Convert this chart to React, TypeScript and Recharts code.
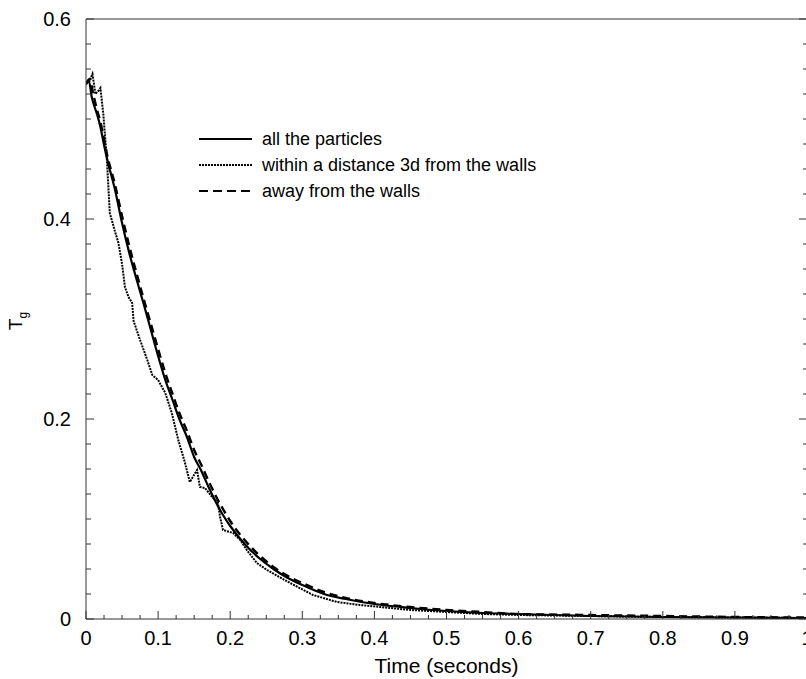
import { LineChart, Line, XAxis, YAxis, Legend } from 'recharts'

// ─── Data ─────────────────────────────────────────────────────────────────────

const SOLID_T = [0, 0.004, 0.008, 0.012, 0.016, 0.02, 0.025, 0.03, 0.04, 0.05, 0.06, 0.07, 0.08, 0.09, 0.1, 0.11, 0.12, 0.13, 0.14, 0.15, 0.16, 0.17, 0.18, 0.19, 0.2, 0.22, 0.24, 0.26, 0.28, 0.3, 0.33, 0.36, 0.4, 0.45, 0.5, 0.55, 0.6, 0.7, 0.8, 0.9, 1.0]
const SOLID_V = [0.535, 0.538, 0.522, 0.512, 0.503, 0.492, 0.474, 0.458, 0.43, 0.396, 0.366, 0.34, 0.315, 0.289, 0.263, 0.239, 0.219, 0.199, 0.182, 0.162, 0.148, 0.132, 0.117, 0.104, 0.093, 0.075, 0.061, 0.05, 0.041, 0.034, 0.025, 0.02, 0.015, 0.011, 0.008, 0.006, 0.005, 0.003, 0.002, 0.0015, 0.001]

const WALL_T = [0, 0.005, 0.009, 0.013, 0.017, 0.02, 0.024, 0.029, 0.033, 0.04, 0.045, 0.05, 0.054, 0.059, 0.064, 0.066, 0.075, 0.085, 0.092, 0.1, 0.11, 0.119, 0.128, 0.137, 0.144, 0.154, 0.158, 0.165, 0.175, 0.183, 0.186, 0.19, 0.204, 0.214, 0.223, 0.237, 0.251, 0.283, 0.315, 0.348, 0.38, 0.408, 0.45, 0.5, 0.55, 0.6, 0.7, 0.8, 0.9, 1.0]
const WALL_V = [0.535, 0.538, 0.545, 0.525, 0.528, 0.531, 0.505, 0.459, 0.406, 0.388, 0.376, 0.355, 0.332, 0.322, 0.316, 0.298, 0.279, 0.259, 0.244, 0.239, 0.226, 0.206, 0.179, 0.157, 0.137, 0.149, 0.132, 0.131, 0.122, 0.116, 0.102, 0.089, 0.086, 0.079, 0.069, 0.056, 0.049, 0.036, 0.024, 0.017, 0.014, 0.012, 0.009, 0.007, 0.005, 0.004, 0.003, 0.002, 0.0015, 0.001]

const AWAY_T = [0, 0.005, 0.01, 0.015, 0.02, 0.03, 0.04, 0.05, 0.06, 0.07, 0.08, 0.09, 0.1, 0.11, 0.12, 0.13, 0.14, 0.15, 0.16, 0.17, 0.18, 0.19, 0.2, 0.22, 0.24, 0.26, 0.28, 0.3, 0.33, 0.36, 0.4, 0.45, 0.5, 0.55, 0.6, 0.7, 0.8, 0.9, 1.0]
const AWAY_V = [0.535, 0.54, 0.525, 0.51, 0.497, 0.462, 0.435, 0.403, 0.373, 0.346, 0.32, 0.295, 0.27, 0.246, 0.225, 0.205, 0.188, 0.169, 0.154, 0.138, 0.123, 0.11, 0.098, 0.079, 0.064, 0.052, 0.043, 0.036, 0.027, 0.021, 0.016, 0.012, 0.009, 0.007, 0.005, 0.004, 0.003, 0.002, 0.0015]

const X_MAJOR = [0, 0.1, 0.2, 0.3, 0.4, 0.5, 0.6, 0.7, 0.8, 0.9, 1]
const X_LABELS = ['0', '0.1', '0.2', '0.3', '0.4', '0.5', '0.6', '0.7', '0.8', '0.9', '1']
const Y_MAJOR = [0, 0.2, 0.4, 0.6]
const Y_LABELS = ['0', '0.2', '0.4', '0.6']

const LEGEND = ['all the particles', 'within a distance 3d from the walls', 'away from the walls']
const DASHES = ['', '2 1', '9 5']

const pts = (ts: number[], vs: number[]) => ts.map((t, i) => ({ t, v: vs[i] }))

// minor ticks every 0.025 on both axes
const X_TICKS = Array.from({ length: 41 }, (_, k) => k / 40)
const Y_TICKS = Array.from({ length: 25 }, (_, k) => k / 40)

const FONT = '"Liberation Sans", Arial, sans-serif'
const INK = '#000'
const FRAME = '#333'

const near = (a: number, list: number[]) => list.findIndex(m => Math.abs(m - a) < 1e-6)

// ─── Ticks ────────────────────────────────────────────────────────────────────

function BottomTick({ x, y, payload }: any) {
  const i = near(payload.value, X_MAJOR)
  return (
    <g>
      <line x1={x} x2={x} y1={y} y2={y - (i >= 0 ? 8 : 4)} stroke={FRAME} />
      {i >= 0 && (
        <text x={x} y={y + 26} textAnchor="middle" fontSize={20} fontFamily={FONT} fill={INK}>{X_LABELS[i]}</text>
      )}
    </g>
  )
}

function TopTick({ x, y, payload }: any) {
  const major = near(payload.value, X_MAJOR) >= 0
  return <line x1={x} x2={x} y1={y} y2={y + (major ? 8 : 4)} stroke={FRAME} />
}

function LeftTick({ x, y, payload }: any) {
  const i = near(payload.value, Y_MAJOR)
  return (
    <g>
      <line x1={x} x2={x + (i >= 0 ? 8 : 5)} y1={y} y2={y} stroke={FRAME} />
      {i >= 0 && (
        <text x={x - 15} y={y} dy={7} textAnchor="end" fontSize={20} fontFamily={FONT} fill={INK}>{Y_LABELS[i]}</text>
      )}
    </g>
  )
}

function RightTick({ x, y, payload }: any) {
  const major = near(payload.value, Y_MAJOR) >= 0
  return <line x1={x} x2={x - (major ? 8 : 4)} y1={y} y2={y} stroke={FRAME} />
}

function TgLabel({ viewBox }: any) {
  const cx = 22
  const cy = viewBox.y + viewBox.height / 2 + 2
  return (
    <text x={cx} y={cy} transform={`rotate(-90 ${cx} ${cy})`} textAnchor="middle"
      fontSize={19} fontFamily={FONT} fill={INK}>
      T<tspan dy={5} fontSize={12}>g</tspan>
    </text>
  )
}

function LegendBox() {
  return (
    <svg width={420} height={80}>
      {LEGEND.map((label, i) => {
        const y = 14 + i * 26
        return (
          <g key={label}>
            <line x1={9} x2={62} y1={y} y2={y} stroke={INK} strokeWidth={2}
              strokeDasharray={DASHES[i] || undefined} />
            <text x={72} y={y} dy={6} fontSize={18} fontFamily={FONT} fill={INK}>{label}</text>
          </g>
        )
      })}
    </svg>
  )
}

// ─── Chart ────────────────────────────────────────────────────────────────────

export default function App() {
  return (
    <div style={{ position: 'absolute', left: 0, top: 0, width: 806, height: 679, overflow: 'hidden', background: '#fff' }}>
      <LineChart width={830} height={679} margin={{ top: 18, right: 22, bottom: 0, left: 0 }}>
        <XAxis xAxisId="b" dataKey="t" type="number" domain={[0, 1]} ticks={X_TICKS} interval={0}
          height={60} tickSize={0} tickMargin={0} tickLine={false} allowDataOverflow
          axisLine={{ stroke: FRAME }} tick={<BottomTick />}
          label={{ value: 'Time (seconds)', position: 'insideBottom', offset: 6, fontSize: 21, fontFamily: FONT, fill: INK }} />
        <XAxis xAxisId="t" orientation="top" type="number" domain={[0, 1]} ticks={X_TICKS} interval={0}
          height={1} tickSize={0} tickMargin={0} tickLine={false} allowDataOverflow
          axisLine={{ stroke: '#999', strokeWidth: 2 }} tick={<TopTick />} />
        <YAxis yAxisId="l" type="number" domain={[0, 0.6]} ticks={Y_TICKS} interval={0}
          width={86} tickSize={0} tickMargin={0} tickLine={false} allowDataOverflow
          axisLine={{ stroke: FRAME }} tick={<LeftTick />} label={{ content: <TgLabel /> }} />
        <YAxis yAxisId="r" orientation="right" type="number" domain={[0, 0.6]} ticks={Y_TICKS} interval={0}
          width={1} tickSize={0} tickMargin={0} tickLine={false} allowDataOverflow
          axisLine={{ stroke: FRAME }} tick={<RightTick />} />

        <Legend layout="vertical" align="center" verticalAlign="middle"
          wrapperStyle={{ left: 190, top: 125, width: 420 }} content={<LegendBox />} />

        <Line xAxisId="b" yAxisId="l" data={pts(WALL_T, WALL_V)} dataKey="v" type="linear"
          stroke={INK} strokeWidth={2} strokeDasharray="2 1" dot={false} isAnimationActive={false} />
        <Line xAxisId="b" yAxisId="l" data={pts(AWAY_T, AWAY_V)} dataKey="v" type="monotone"
          stroke={INK} strokeWidth={2.4} strokeDasharray="8 5" dot={false} isAnimationActive={false} />
        <Line xAxisId="b" yAxisId="l" data={pts(SOLID_T, SOLID_V)} dataKey="v" type="monotone"
          stroke={INK} strokeWidth={2.2} dot={false} isAnimationActive={false} />
      </LineChart>
    </div>
  )
}
